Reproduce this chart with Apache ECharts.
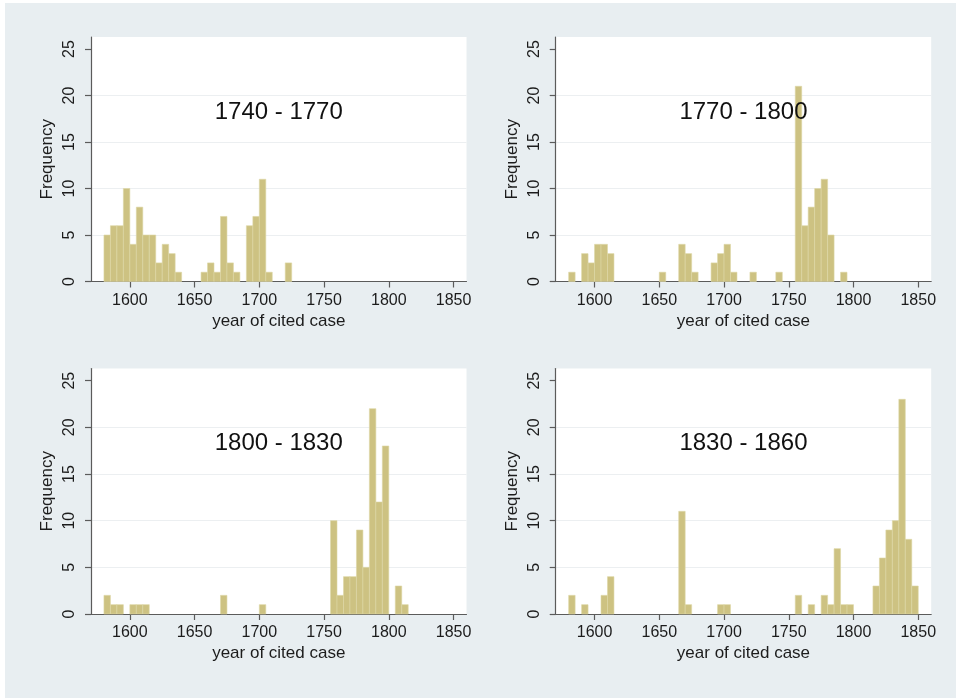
<!DOCTYPE html>
<html>
<head>
<meta charset="utf-8">
<title>year of cited case</title>
<script src="https://cdn.jsdelivr.net/npm/echarts@6/dist/echarts.min.js"></script>
<style>
  html, body {
    margin: 0;
    padding: 0;
    background: #ffffff;
  }
  #chart {
    position: absolute;
    left: 5px;
    top: 3px;
    width: 951px;
    height: 695px;
  }
</style>
</head>
<body>
<div id="chart"></div>
<script>
// left edge of each 5-year bin
const binStarts = [
  1580, 1585, 1590, 1595, 1600, 1605, 1610, 1615, 1620, 1625,
  1630, 1635, 1640, 1645, 1650, 1655, 1660, 1665, 1670, 1675,
  1680, 1685, 1690, 1695, 1700, 1705, 1710, 1715, 1720, 1725,
  1730, 1735, 1740, 1745, 1750, 1755, 1760, 1765, 1770, 1775,
  1780, 1785, 1790, 1795, 1800, 1805, 1810, 1815, 1820, 1825,
  1830, 1835, 1840, 1845
];
const binWidth = 5;

const panelTitles = ["1740 - 1770", "1770 - 1800", "1800 - 1830", "1830 - 1860"];

// frequencies per bin, one array per panel
const counts1740 = [
  5, 6, 6, 10, 4, 8, 5, 5, 2, 4,
  3, 1, 0, 0, 0, 1, 2, 1, 7, 2,
  1, 0, 6, 7, 11, 1, 0, 0, 2, 0,
  0, 0, 0, 0, 0, 0, 0, 0, 0, 0,
  0, 0, 0, 0, 0, 0, 0, 0, 0, 0,
  0, 0, 0, 0
];
const counts1770 = [
  1, 0, 3, 2, 4, 4, 3, 0, 0, 0,
  0, 0, 0, 0, 1, 0, 0, 4, 3, 1,
  0, 0, 2, 3, 4, 1, 0, 0, 1, 0,
  0, 0, 1, 0, 0, 21, 6, 8, 10, 11,
  5, 0, 1, 0, 0, 0, 0, 0, 0, 0,
  0, 0, 0, 0
];
const counts1800 = [
  2, 1, 1, 0, 1, 1, 1, 0, 0, 0,
  0, 0, 0, 0, 0, 0, 0, 0, 2, 0,
  0, 0, 0, 0, 1, 0, 0, 0, 0, 0,
  0, 0, 0, 0, 0, 10, 2, 4, 4, 9,
  5, 22, 12, 18, 0, 3, 1, 0, 0, 0,
  0, 0, 0, 0
];
const counts1830 = [
  2, 0, 1, 0, 0, 2, 4, 0, 0, 0,
  0, 0, 0, 0, 0, 0, 0, 11, 1, 0,
  0, 0, 0, 1, 1, 0, 0, 0, 0, 0,
  0, 0, 0, 0, 0, 2, 0, 1, 0, 2,
  1, 7, 1, 1, 0, 0, 0, 3, 6, 9,
  10, 23, 8, 3
];

const xTicks = [1600, 1650, 1700, 1750, 1800, 1850];
const yTicks = [0, 5, 10, 15, 20, 25];

const panelCounts = [counts1740, counts1770, counts1800, counts1830];

// plot regions (px, relative to the chart box)
const grids = [
  { left: 86, top: 34, width: 375.5, height: 244.5 },
  { left: 550.7, top: 34, width: 375.5, height: 244.5 },
  { left: 86, top: 365.5, width: 375.5, height: 245.5 },
  { left: 550.7, top: 365.5, width: 375.5, height: 245.5 },
];

const FONT = "'Liberation Sans', Arial, Helvetica, sans-serif";
const AXIS_COLOR = "#5b5b5b";
const TEXT_COLOR = "#1c1c1c";
const BAR_COLOR = "#cdc282";

const chart = echarts.init(document.getElementById("chart"));

function renderBin(params, api) {
  const start = api.value(0);
  const n = api.value(1);
  if (!n) return null;
  const p0 = api.coord([start, 0]);
  const p1 = api.coord([start + binWidth, n]);
  return {
    type: "rect",
    shape: {
      x: p0[0],
      y: p1[1],
      width: p1[0] - p0[0],
      height: p0[1] - p1[1],
    },
    style: {
      fill: BAR_COLOR,
      stroke: "#ddd6a6",
      lineWidth: 0.6,
    },
  };
}

const option = {
  backgroundColor: "#e8eef1",
  animation: false,
  textStyle: { fontFamily: FONT },
  title: grids.map((g, i) => ({
    text: panelTitles[i],
    left: g.left + g.width / 2,
    top: g.top + 63,
    textAlign: "center",
    padding: 0,
    textStyle: {
      fontFamily: FONT,
      fontSize: 24,
      fontWeight: "normal",
      color: "#111",
    },
  })),
  grid: grids.map((g) => ({
    left: g.left,
    top: g.top,
    width: g.width,
    height: g.height,
    show: true,
    backgroundColor: "#ffffff",
    borderWidth: 0,
    containLabel: false,
  })),
  xAxis: grids.map((g, i) => ({
    type: "value",
    gridIndex: i,
    min: 1570,
    max: 1860,
    name: "year of cited case",
    nameLocation: "middle",
    nameGap: 31,
    nameTextStyle: { fontFamily: FONT, fontSize: 17, color: TEXT_COLOR },
    axisLine: { show: true, lineStyle: { color: AXIS_COLOR, width: 1.2 } },
    axisTick: {
      show: true,
      length: 6,
      customValues: xTicks,
      lineStyle: { color: AXIS_COLOR, width: 1.2 },
    },
    axisLabel: {
      customValues: xTicks,
      formatter: (v) => String(v),
      fontSize: 16,
      margin: 11,
      color: TEXT_COLOR,
    },
    splitLine: { show: false },
  })),
  yAxis: grids.map((g, i) => ({
    type: "value",
    gridIndex: i,
    min: 0,
    max: 26.3,
    name: "Frequency",
    nameLocation: "middle",
    nameGap: 35,
    nameTextStyle: { fontFamily: FONT, fontSize: 17, color: TEXT_COLOR },
    axisLine: { show: true, lineStyle: { color: AXIS_COLOR, width: 1.2 } },
    axisTick: {
      show: true,
      length: 6,
      customValues: yTicks,
      lineStyle: { color: AXIS_COLOR, width: 1.2 },
    },
    axisLabel: {
      customValues: yTicks,
      formatter: (v) => String(v),
      rotate: 90,
      fontSize: 16,
      margin: 13,
      color: TEXT_COLOR,
    },
    splitLine: {
      show: true,
      showMinLine: false,
      showMaxLine: false,
      lineStyle: { color: "#eceff1", width: 1 },
    },
  })),
  series: panelCounts.map((counts, i) => ({
    type: "custom",
    xAxisIndex: i,
    yAxisIndex: i,
    renderItem: renderBin,
    encode: { x: 0, y: 1 },
    data: binStarts.map((start, k) => [start, counts[k]]),
  })),
};

chart.setOption(option);
</script>
</body>
</html>
